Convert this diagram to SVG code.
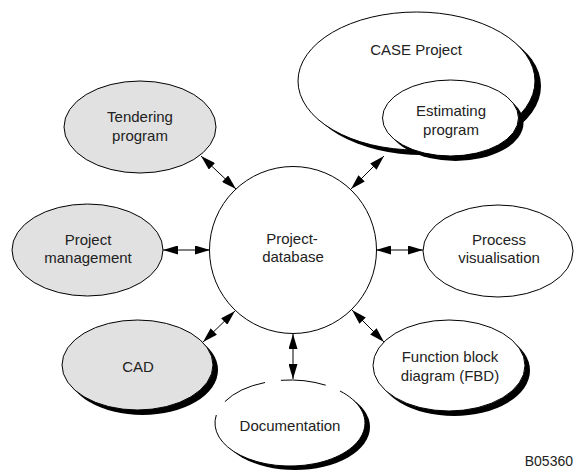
<svg xmlns="http://www.w3.org/2000/svg" width="574" height="470" viewBox="0 0 574 470">
<defs>
<marker id="ah" markerUnits="userSpaceOnUse" markerWidth="15" markerHeight="9" refX="15" refY="4.5" orient="auto-start-reverse" viewBox="0 0 15 9">
<path d="M0,0 L15,4.5 L0,9 z" fill="#000"/>
</marker>
</defs>
<style>
.n{stroke:#000;stroke-width:1;fill:#fff}
.g{stroke:#000;stroke-width:1;fill:#e1e1e1}
.sh{fill:#000;stroke:none}
.t{font-family:"Liberation Sans",Arial,sans-serif;font-size:15px;fill:#222;text-anchor:middle}
.c line{stroke:#000;stroke-width:1;marker-start:url(#ah);marker-end:url(#ah)}
</style>
<rect width="574" height="470" fill="#fff"/>

<g id="connectors" class="c">
<line x1="201" y1="156" x2="236" y2="189"/>
<line x1="163" y1="250" x2="210" y2="250"/>
<line x1="203" y1="342" x2="235" y2="311"/>
<line x1="293" y1="334" x2="293" y2="379"/>
<line x1="352" y1="310" x2="384" y2="342"/>
<line x1="376" y1="250" x2="423" y2="250"/>
<line x1="351" y1="189" x2="384" y2="156"/>
</g>

<g id="tendering">
<ellipse class="g" cx="140" cy="127" rx="76" ry="46"/>
<text class="t" x="140" y="121.5">Tendering</text>
<text class="t" x="140" y="140.5">program</text>
</g>

<g id="project-management">
<ellipse class="g" cx="87.5" cy="250" rx="75.5" ry="46"/>
<text class="t" x="88" y="244.5">Project</text>
<text class="t" x="88" y="263">management</text>
</g>

<g id="cad">
<ellipse class="sh" cx="142.5" cy="370" rx="75.5" ry="45"/>
<ellipse class="g" cx="137.5" cy="365" rx="75.5" ry="45"/>
<text class="t" x="138" y="371.5">CAD</text>
</g>

<g id="documentation">
<ellipse class="sh" cx="295" cy="427" rx="75" ry="43"/>
<ellipse cx="290" cy="423" rx="75" ry="43" fill="#fff"/>
<path d="M340,391 A75,43 0 1,1 216.3,415 M224.9,401.6 A75,43 0 0,1 265,382.5 M280.9,380.3 A75,43 0 0,1 325.7,385.2" fill="none" stroke="#000" stroke-width="1"/>
<text class="t" x="290" y="431">Documentation</text>
</g>

<g id="fbd">
<ellipse class="sh" cx="454" cy="370.5" rx="76" ry="45.5"/>
<ellipse class="n" cx="449" cy="365.5" rx="76" ry="45.5"/>
<text class="t" x="450" y="361.5">Function block</text>
<text class="t" x="450" y="381">diagram (FBD)</text>
</g>

<g id="process-visualisation">
<ellipse class="n" cx="498" cy="251" rx="75" ry="46"/>
<text class="t" x="499" y="245">Process</text>
<text class="t" x="499" y="263">visualisation</text>
</g>

<g id="case-project">
<ellipse class="sh" cx="422.5" cy="86" rx="118.5" ry="69"/>
<ellipse class="n" cx="416.5" cy="81" rx="118.5" ry="69"/>
<text class="t" x="416" y="55">CASE Project</text>
</g>

<g id="estimating">
<ellipse class="sh" cx="455.5" cy="123" rx="68" ry="38"/>
<ellipse class="n" cx="450.5" cy="118" rx="68" ry="38"/>
<text class="t" x="451" y="116">Estimating</text>
<text class="t" x="451" y="134.5">program</text>
</g>

<g id="project-database">
<circle class="n" cx="293" cy="250" r="83.5"/>
<text class="t" x="292" y="244">Project-</text>
<text class="t" x="293" y="262">database</text>
</g>

<text class="t" x="573" y="466" style="text-anchor:end;font-size:14px">B05360</text>
</svg>
